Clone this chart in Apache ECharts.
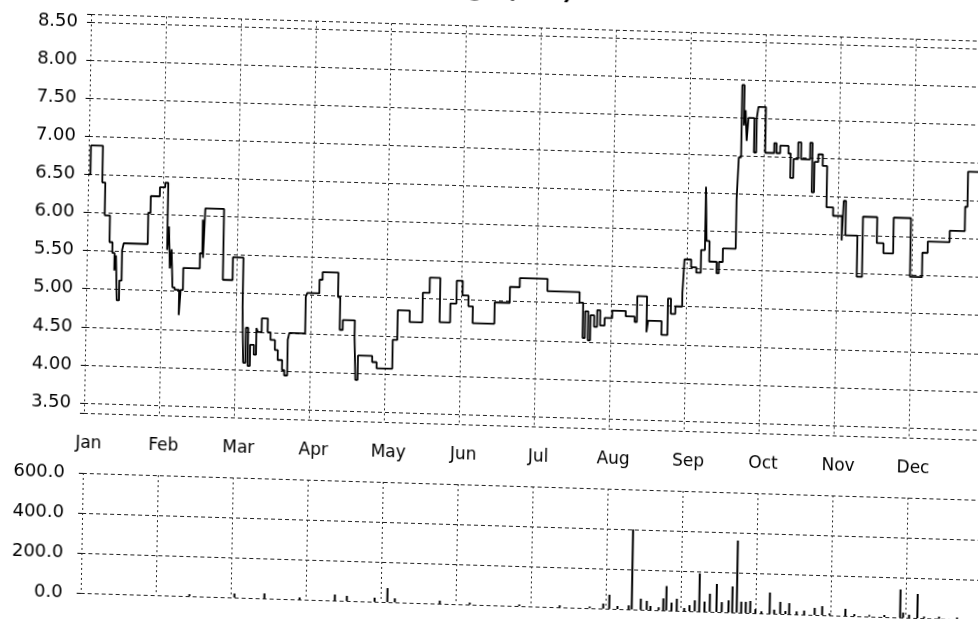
<!DOCTYPE html>
<html>
<head>
<meta charset="utf-8">
<script src="https://cdn.jsdelivr.net/npm/echarts@6/dist/echarts.min.js"></script>
<style>
  html, body { margin: 0; padding: 0; background: #fff; overflow: hidden; width: 978px; height: 619px; }
  #chart {
    position: absolute; left: 0; top: -40px; width: 1000px; height: 660px;
    transform-origin: 91px 62px;
    transform: matrix(1, 0.03, -0.018, 1, 0, 0);
  }
</style>
</head>
<body>
<div id="chart"></div>
<script>
// ---- data ----
const titleText = 'Share Price Range (LEK)';
const months = ['Jan','Feb','Mar','Apr','May','Jun','Jul','Aug','Sep','Oct','Nov','Dec'];
const priceTicks = [3.5, 4.0, 4.5, 5.0, 5.5, 6.0, 6.5, 7.0, 7.5, 8.0, 8.5];
const volumeTicks = [0, 200, 400, 600];

// x = months since 1 Jan, y = price (LEK)
const priceX = [0.00,0.03,0.19,0.23,0.30,0.34,0.37,0.39,0.41,0.44,0.47,0.49,0.81,0.84,0.96,1.03,1.07,1.09,1.11,1.13,1.15,1.18,1.24,1.26,1.29,1.51,1.54,1.55,1.57,1.82,1.95,2.09,2.11,2.14,2.17,2.20,2.25,2.28,2.30,2.35,2.43,2.47,2.53,2.57,2.63,2.66,2.70,2.72,2.93,2.95,3.11,3.15,3.36,3.39,3.43,3.59,3.61,3.64,3.83,3.89,4.10,4.16,4.32,4.49,4.58,4.72,4.86,4.94,5.02,5.10,5.16,5.45,5.65,5.78,6.15,6.58,6.63,6.66,6.70,6.73,6.78,6.82,6.86,6.92,7.02,7.20,7.32,7.35,7.48,7.50,7.68,7.76,7.80,7.86,7.95,7.97,8.06,8.13,8.19,8.24,8.26,8.30,8.40,8.43,8.48,8.65,8.67,8.70,8.73,8.75,8.77,8.79,8.87,8.90,8.92,9.02,9.14,9.17,9.22,9.33,9.36,9.40,9.46,9.50,9.62,9.65,9.68,9.73,9.79,9.85,9.94,10.06,10.08,10.11,10.27,10.34,10.53,10.62,10.75,10.98,11.14,11.21,11.50,11.70,11.73,11.88];
const priceY = [6.50,6.88,6.40,5.97,5.62,5.48,5.25,5.45,4.86,5.12,5.52,5.61,6.02,6.24,6.36,6.42,5.54,5.85,5.30,5.55,5.05,5.02,4.69,5.02,5.31,5.51,5.95,5.45,6.10,5.17,5.47,4.82,4.09,4.55,4.05,4.33,4.20,4.55,4.50,4.68,4.50,4.40,4.27,4.14,4.01,3.94,4.41,4.50,4.98,5.03,5.21,5.31,4.99,4.56,4.69,4.47,3.91,4.23,4.15,4.07,4.45,4.84,4.69,5.08,5.28,4.70,4.95,5.25,5.06,4.92,4.70,4.98,5.19,5.31,5.15,5.01,4.55,4.90,4.52,4.85,4.70,4.92,4.72,4.82,4.92,4.85,4.78,5.12,4.65,4.80,4.62,5.10,4.90,5.00,5.18,5.62,5.52,5.45,5.75,6.58,5.87,5.60,5.45,5.60,5.78,6.42,6.98,7.93,7.40,7.60,7.20,7.50,7.05,7.50,7.65,7.05,7.18,7.05,7.15,7.05,6.73,6.98,7.20,6.98,7.20,6.55,6.95,7.05,6.90,6.36,6.25,5.93,6.45,6.00,5.46,6.25,5.91,5.78,6.25,5.48,5.80,5.95,6.10,6.42,6.88,6.88];

// x = months since 1 Jan, y = volume traded
const volumeX = [1.45,2.05,2.45,2.92,3.39,3.55,3.92,4.09,4.19,4.79,5.19,5.85,6.39,6.79,6.97,7.05,7.16,7.31,7.35,7.47,7.55,7.60,7.71,7.77,7.81,7.88,7.95,8.05,8.12,8.19,8.25,8.32,8.39,8.48,8.55,8.64,8.69,8.75,8.81,8.87,8.93,9.00,9.08,9.19,9.25,9.33,9.40,9.45,9.55,9.65,9.79,9.89,9.99,10.20,10.32,10.52,10.72,10.93,10.97,11.05,11.16,11.25,11.45,11.69];
const volumeY = [10,20,25,10,30,25,20,70,20,15,10,8,10,8,25,70,15,20,400,55,45,20,15,60,122,40,60,15,30,55,190,50,90,140,50,60,130,360,55,55,60,20,10,105,20,60,15,55,15,20,35,45,10,35,10,8,10,140,25,15,120,8,10,8];

// ---- chart ----
const priceData = priceX.map((x, i) => [x, priceY[i]]);
const volumeData = volumeX.map((x, i) => [x, volumeY[i]]);

const hLine = { show: true, lineStyle: { color: '#222', width: 1, type: [4, 3] } };
const vLine = { show: true, lineStyle: { color: '#222', width: 1, type: [2, 3] } };
const font = 'DejaVu Sans';

const chart = echarts.init(document.getElementById('chart'), null, { renderer: 'canvas' });
chart.setOption({
  animation: false,
  backgroundColor: '#fff',
  graphic: [{
    type: 'text',
    x: 572, y: 19,
    style: { text: titleText, fill: '#000', font: 'bold 22px "DejaVu Sans"', align: 'right', verticalAlign: 'middle' }
  }],
  grid: [
    { left: 91, top: 54.4, width: 900, height: 399.3, outerBoundsMode: 'none' },
    { left: 91, top: 513, width: 900, height: 120, outerBoundsMode: 'none' }
  ],
  xAxis: [
    {
      gridIndex: 0, type: 'value', min: 0, max: 12, interval: 1,
      axisLine: { show: false }, axisTick: { show: false },
      axisLabel: {
        color: '#000', fontFamily: font, fontSize: 17, margin: 21, padding: [0, 0, 0, 10],
        formatter: v => months[v] || ''
      },
      splitLine: vLine
    },
    {
      gridIndex: 1, type: 'value', min: 0, max: 12, interval: 1,
      axisLine: { show: false }, axisTick: { show: false }, axisLabel: { show: false },
      splitLine: vLine
    }
  ],
  yAxis: [
    {
      gridIndex: 0, type: 'value', min: 3.36, max: 8.6,
      axisLine: { show: false },
      axisTick: { show: true, length: 4, lineStyle: { color: '#000' }, customValues: priceTicks.concat([3.36, 8.6]) },
      axisLabel: { color: '#000', fontFamily: font, fontSize: 18, margin: 13, customValues: priceTicks, formatter: v => v.toFixed(2) },
      splitLine: hLine
    },
    {
      gridIndex: 1, type: 'value', min: 0, max: 600, interval: 200,
      axisLine: { show: false },
      axisTick: { show: true, length: 4, lineStyle: { color: '#000' } },
      axisLabel: { color: '#000', fontFamily: font, fontSize: 18, margin: 18, formatter: v => v.toFixed(1) },
      splitLine: hLine
    }
  ],
  series: [
    {
      type: 'line', xAxisIndex: 0, yAxisIndex: 0, data: priceData, step: 'end',
      symbol: 'none', lineStyle: { color: '#000', width: 1.8 }
    },
    {
      type: 'bar', xAxisIndex: 1, yAxisIndex: 1, data: volumeData, barWidth: 2,
      itemStyle: { color: '#000' }
    }
  ]
});
</script>
</body>
</html>
